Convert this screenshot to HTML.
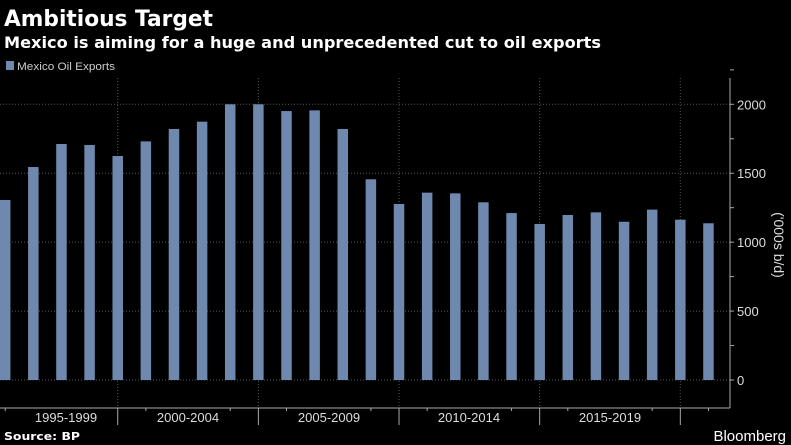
<!DOCTYPE html>
<html><head><meta charset="utf-8"><style>
html,body{margin:0;padding:0;background:#000;width:791px;height:445px;overflow:hidden;font-family:"Liberation Sans",sans-serif}
svg{display:block}
</style></head><body>
<svg width="791" height="445">
<text x="4" y="26" fill="#fff" font-size="22" font-weight="bold" font-family="DejaVu Sans, sans-serif" textLength="209" lengthAdjust="spacingAndGlyphs">Ambitious Target</text>
<text x="4" y="48" fill="#fff" font-size="16" font-weight="bold" font-family="DejaVu Sans, sans-serif" textLength="597" lengthAdjust="spacingAndGlyphs">Mexico is aiming for a huge and unprecedented cut to oil exports</text>
<rect x="6" y="61" width="8" height="9" fill="#6f89ae"/>
<text x="17" y="70" fill="#ccc" font-size="11" textLength="98" lengthAdjust="spacingAndGlyphs">Mexico Oil Exports</text>
<g id="grid"></g><g id="bars"></g><g id="axis"></g>
<text transform="translate(774,245) rotate(90)" fill="#ddd" font-size="14" text-anchor="middle">('000s b/d)</text>
<text x="4" y="440" fill="#fff" font-size="11" font-weight="bold" font-family="DejaVu Sans, sans-serif" textLength="76" lengthAdjust="spacingAndGlyphs">Source: BP</text>
<text x="786" y="441" fill="#fff" font-size="15" text-anchor="end">Bloomberg</text>
</svg>
<script>
const values=[1306,1545,1712,1705,1625,1731,1821,1874,2000,2000,1951,1956,1821,1456,1277,1359,1354,1289,1211,1132,1197,1216,1148,1236,1163,1137];
const yTicks=[0,500,1000,1500,2000];
const groupLabels=["1995-1999","2000-2004","2005-2009","2010-2014","2015-2019"];
const groupLabelX=[66,188,329,469,610];
const ns="http://www.w3.org/2000/svg";
const x0=5.2,step=28.13,barW=10.5,yBase=380,scale=275.7/2000,axisX=730;
const xs=i=>x0+i*step, ys=v=>yBase-v*scale;
function mk(t,a,p){const e=document.createElementNS(ns,t);for(const k in a)e.setAttribute(k,a[k]);p.appendChild(e);return e;}
const G=document.getElementById('grid'),B=document.getElementById('bars'),A=document.getElementById('axis');
yTicks.forEach(v=>{
  const l=mk('line',{x1:0,x2:axisX,y1:ys(v),y2:ys(v),stroke:'#555','stroke-dasharray':'1,2'},G);
  
  
  const t=mk('text',{x:axisX+7,y:ys(v)+5,fill:'#ddd','font-size':13},A);t.textContent=v;
  
  
});
for(let v=0;v<=2250;v+=250){mk('line',{x1:axisX,x2:axisX+4,y1:ys(v),y2:ys(v),stroke:'#aaa'},A);}
[4,9,14,19,24].forEach(i=>{
  const l=mk('line',{x1:xs(i),x2:xs(i),y1:78,y2:408,stroke:'#555','stroke-dasharray':'1,2'},G);
  
  
  mk('line',{x1:xs(i),x2:xs(i),y1:408,y2:425,stroke:'#aaa'},A);
});
values.forEach((v,i)=>{
  const r=mk('rect',{x:xs(i)-barW/2,y:ys(v),width:barW,height:yBase-ys(v),fill:'#6f89ae'},B);
  
  
  if([0,5,8,10,13,15,18,20,23,25].includes(i))mk('line',{x1:xs(i),x2:xs(i),y1:408,y2:411,stroke:'#aaa'},A);
});
mk('line',{x1:0,x2:axisX,y1:408,y2:408,stroke:'#aaa'},A);
mk('line',{x1:axisX,x2:axisX,y1:78,y2:408,stroke:'#aaa'},A);
groupLabels.forEach((s,i)=>{
  const t=mk('text',{x:groupLabelX[i],y:422,fill:'#ddd','font-size':13,'text-anchor':'middle'},A);t.textContent=s;
  
  
});
</script>
</body></html>
